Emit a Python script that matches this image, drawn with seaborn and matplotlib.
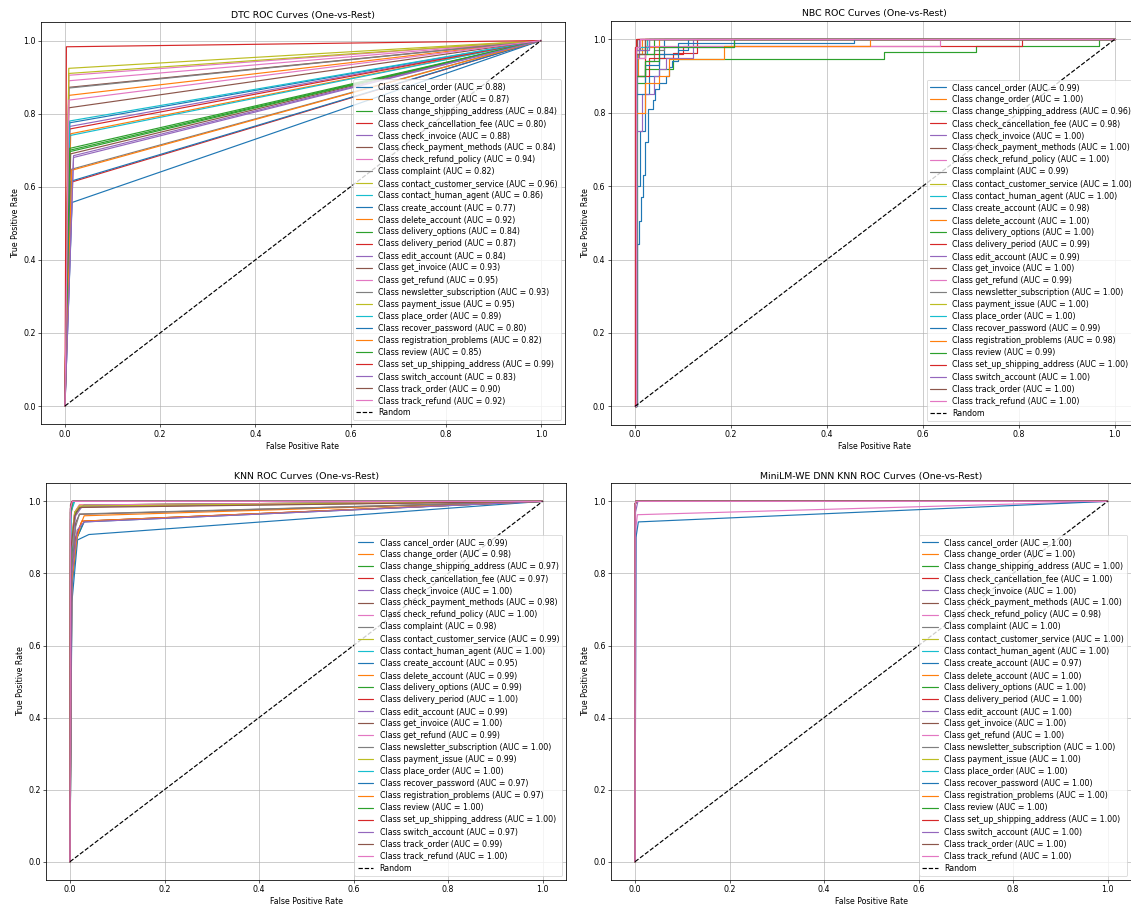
import matplotlib
matplotlib.use("Agg")
import matplotlib.pyplot as plt
import seaborn as sns
import pandas as pd

classes = ["cancel_order", "change_order", "change_shipping_address", "check_cancellation_fee",
           "check_invoice", "check_payment_methods", "check_refund_policy", "complaint",
           "contact_customer_service", "contact_human_agent", "create_account", "delete_account",
           "delivery_options", "delivery_period", "edit_account", "get_invoice", "get_refund",
           "newsletter_subscription", "payment_issue", "place_order", "recover_password",
           "registration_problems", "review", "set_up_shipping_address", "switch_account",
           "track_order", "track_refund"]

# ---- AUC values (legend) ----
dtc_auc = [0.88, 0.87, 0.84, 0.80, 0.88, 0.84, 0.94, 0.82, 0.96, 0.86, 0.77, 0.92, 0.84, 0.87,
           0.84, 0.93, 0.95, 0.93, 0.95, 0.89, 0.80, 0.82, 0.85, 0.99, 0.83, 0.90, 0.92]
nbc_auc = [0.99, 1.00, 0.96, 0.98, 1.00, 1.00, 1.00, 0.99, 1.00, 1.00, 0.98, 1.00, 1.00, 0.99,
           0.99, 1.00, 0.99, 1.00, 1.00, 1.00, 0.99, 0.98, 0.99, 1.00, 1.00, 1.00, 1.00]
knn_auc = [0.99, 0.98, 0.97, 0.97, 1.00, 0.98, 1.00, 0.98, 0.99, 1.00, 0.95, 0.99, 0.99, 1.00,
           0.99, 1.00, 0.99, 1.00, 0.99, 1.00, 0.97, 0.97, 1.00, 1.00, 0.97, 0.99, 1.00]
dnn_auc = [1.00, 1.00, 1.00, 1.00, 1.00, 1.00, 0.98, 1.00, 1.00, 1.00, 0.97, 1.00, 1.00, 1.00,
           1.00, 1.00, 1.00, 1.00, 1.00, 1.00, 1.00, 1.00, 1.00, 1.00, 1.00, 1.00, 1.00]

# ---- DTC: single operating point per class ----
dtc_fpr = [0.010, 0.012, 0.010, 0.012, 0.010, 0.012, 0.008, 0.014, 0.008, 0.010, 0.015, 0.008,
           0.010, 0.010, 0.018, 0.008, 0.008, 0.008, 0.008, 0.010, 0.012, 0.014, 0.010, 0.003,
           0.018, 0.008, 0.008]
dtc_tpr = [0.775, 0.745, 0.700, 0.612, 0.765, 0.690, 0.890, 0.648, 0.924, 0.740, 0.557, 0.850,
           0.696, 0.758, 0.685, 0.872, 0.905, 0.870, 0.910, 0.780, 0.615, 0.645, 0.705, 0.983,
           0.680, 0.816, 0.837]

# ---- NBC: step-curve corner points per class ----
nbc_fpr = [
    [0, 0.002, 0.002, 0.01, 0.01, 0.02, 0.02, 0.03, 0.03, 0.05, 0.05, 0.06, 0.06, 1],
    [0, 0.002, 0.002, 0.006, 0.006, 0.015, 0.015, 1],
    [0, 0.003, 0.003, 0.02, 0.02, 0.08, 0.08, 0.52, 0.52, 0.71, 0.71, 0.967, 0.967, 1],
    [0, 0.003, 0.003, 0.02, 0.02, 0.10, 0.10, 0.806, 0.806, 1],
    [0, 0.002, 0.002, 0.008, 0.008, 1],
    [0, 0.003, 0.003, 0.02, 0.02, 1],
    [0, 0.001, 0.001, 0.004, 0.004, 1],
    [0, 0.005, 0.005, 0.02, 0.02, 0.04, 0.04, 0.06, 0.06, 0.206, 0.206, 1],
    [0, 0.003, 0.003, 0.03, 0.03, 1],
    [0, 0.004, 0.004, 0.025, 0.025, 1],
    [0, 0.004, 0.004, 0.008, 0.008, 0.012, 0.012, 0.016, 0.016, 0.020, 0.020, 0.027, 0.027,
     0.037, 0.037, 0.042, 0.042, 0.05, 0.05, 0.065, 0.065, 0.072, 0.072, 0.077, 0.077, 0.09,
     0.09, 0.11, 0.11, 1],
    [0, 0.003, 0.003, 0.05, 0.05, 1],
    [0, 0.003, 0.003, 0.04, 0.04, 1],
    [0, 0.002, 0.002, 0.03, 0.03, 0.08, 0.08, 0.13, 0.13, 1],
    [0, 0.003, 0.003, 0.015, 0.015, 0.04, 0.04, 0.05, 0.05, 0.065, 0.065, 0.12, 0.12, 1],
    [0, 0.001, 0.001, 0.005, 0.005, 1],
    [0, 0.002, 0.002, 0.02, 0.02, 0.635, 0.635, 1],
    [0, 0.002, 0.002, 0.01, 0.01, 1],
    [0, 0.002, 0.002, 0.02, 0.02, 1],
    [0, 0.003, 0.003, 0.03, 0.03, 1],
    [0, 0.003, 0.003, 0.02, 0.02, 0.05, 0.05, 0.09, 0.09, 0.457, 0.457, 1],
    [0, 0.003, 0.003, 0.02, 0.02, 0.05, 0.05, 0.07, 0.07, 0.186, 0.186, 0.49, 0.49, 1],
    [0, 0.003, 0.003, 0.02, 0.02, 0.05, 0.05, 0.206, 0.206, 1],
    [0, 0.001, 0.001, 0.002, 0.002, 1],
    [0, 0.003, 0.003, 0.03, 0.03, 1],
    [0, 0.002, 0.002, 0.02, 0.02, 1],
    [0, 0.003, 0.003, 0.01, 0.01, 1],
]
nbc_tpr = [
    [0, 0, 0.60, 0.60, 0.75, 0.75, 0.85, 0.85, 0.90, 0.90, 0.95, 0.95, 1, 1],
    [0, 0, 0.90, 0.90, 0.96, 0.96, 1, 1],
    [0, 0, 0.88, 0.88, 0.92, 0.92, 0.947, 0.947, 0.966, 0.966, 0.982, 0.982, 1, 1],
    [0, 0, 0.90, 0.90, 0.96, 0.96, 0.982, 0.982, 1, 1],
    [0, 0, 0.95, 0.95, 1, 1],
    [0, 0, 0.95, 0.95, 1, 1],
    [0, 0, 0.97, 0.97, 1, 1],
    [0, 0, 0.90, 0.90, 0.94, 0.94, 0.97, 0.97, 0.98, 0.98, 1, 1],
    [0, 0, 0.97, 0.97, 1, 1],
    [0, 0, 0.96, 0.96, 1, 1],
    [0, 0, 0.443, 0.443, 0.504, 0.504, 0.57, 0.57, 0.63, 0.63, 0.72, 0.72, 0.81, 0.81,
     0.835, 0.835, 0.865, 0.865, 0.88, 0.88, 0.90, 0.90, 0.925, 0.925, 0.94, 0.94, 0.97,
     0.97, 1, 1],
    [0, 0, 0.98, 0.98, 1, 1],
    [0, 0, 0.96, 0.96, 1, 1],
    [0, 0, 0.90, 0.90, 0.95, 0.95, 0.963, 0.963, 1, 1],
    [0, 0, 0.75, 0.75, 0.85, 0.85, 0.90, 0.90, 0.92, 0.92, 0.95, 0.95, 1, 1],
    [0, 0, 0.98, 0.98, 1, 1],
    [0, 0, 0.95, 0.95, 0.982, 0.982, 1, 1],
    [0, 0, 0.97, 0.97, 1, 1],
    [0, 0, 0.97, 0.97, 1, 1],
    [0, 0, 0.98, 0.98, 1, 1],
    [0, 0, 0.85, 0.85, 0.93, 0.93, 0.96, 0.96, 0.99, 0.99, 1, 1],
    [0, 0, 0.80, 0.80, 0.88, 0.88, 0.90, 0.90, 0.947, 0.947, 0.982, 0.982, 1, 1],
    [0, 0, 0.90, 0.90, 0.94, 0.94, 0.98, 0.98, 1, 1],
    [0, 0, 0.98, 0.98, 1, 1],
    [0, 0, 0.97, 0.97, 1, 1],
    [0, 0, 0.96, 0.96, 1, 1],
    [0, 0, 0.98, 0.98, 1, 1],
]

# ---- KNN: few thresholds per class ----
knn_fpr = [
    [0, 0.002, 0.010, 0.030, 1], [0, 0.003, 0.012, 0.030, 1], [0, 0.004, 0.015, 0.030, 1],
    [0, 0.003, 0.012, 0.025, 1], [0, 0.001, 0.005, 1], [0, 0.003, 0.012, 0.020, 1],
    [0, 0.001, 0.004, 1], [0, 0.003, 0.012, 0.020, 1], [0, 0.002, 0.010, 0.020, 1],
    [0, 0.002, 0.010, 1], [0, 0.004, 0.016, 0.040, 1], [0, 0.002, 0.010, 0.020, 1],
    [0, 0.002, 0.012, 0.030, 1], [0, 0.001, 0.006, 1], [0, 0.002, 0.012, 0.025, 1],
    [0, 0.001, 0.004, 1], [0, 0.002, 0.010, 0.020, 1], [0, 0.001, 0.005, 1],
    [0, 0.002, 0.010, 0.020, 1], [0, 0.002, 0.008, 1], [0, 0.004, 0.015, 0.030, 1],
    [0, 0.004, 0.015, 0.025, 1], [0, 0.001, 0.006, 1], [0, 0.001, 0.004, 1],
    [0, 0.004, 0.015, 0.030, 1], [0, 0.002, 0.010, 0.020, 1], [0, 0.001, 0.005, 1],
]
knn_tpr = [
    [0, 0.80, 0.97, 0.99, 1], [0, 0.75, 0.90, 0.96, 1], [0, 0.80, 0.90, 0.945, 1],
    [0, 0.78, 0.90, 0.945, 1], [0, 0.98, 1, 1], [0, 0.80, 0.94, 0.964, 1],
    [0, 0.97, 1, 1], [0, 0.82, 0.93, 0.965, 1], [0, 0.85, 0.96, 0.985, 1],
    [0, 0.97, 1, 1], [0, 0.72, 0.893, 0.908, 1], [0, 0.88, 0.97, 0.99, 1],
    [0, 0.88, 0.97, 0.99, 1], [0, 0.95, 1, 1], [0, 0.86, 0.96, 0.985, 1],
    [0, 0.99, 1, 1], [0, 0.88, 0.97, 0.99, 1], [0, 0.98, 1, 1],
    [0, 0.87, 0.97, 0.987, 1], [0, 0.97, 1, 1], [0, 0.76, 0.90, 0.943, 1],
    [0, 0.78, 0.90, 0.945, 1], [0, 0.97, 1, 1], [0, 0.98, 1, 1],
    [0, 0.80, 0.92, 0.943, 1], [0, 0.87, 0.96, 0.983, 1], [0, 0.98, 1, 1],
]

# ---- MiniLM-WE DNN ----
dnn_fpr = [[0, 0, 0.002, 1] for _ in range(27)]
dnn_tpr = [[0, 0.99, 1, 1] for _ in range(27)]
dnn_fpr[10] = [0, 0.002, 0.007, 1]
dnn_tpr[10] = [0, 0.90, 0.943, 1]
dnn_fpr[6] = [0, 0.002, 0.005, 1]
dnn_tpr[6] = [0, 0.93, 0.963, 1]
dnn_fpr[24] = [0, 0.001, 0.006, 1]
dnn_tpr[24] = [0, 0.97, 1, 1]

titles = ["DTC ROC Curves (One-vs-Rest)", "NBC ROC Curves (One-vs-Rest)",
          "KNN ROC Curves (One-vs-Rest)", "MiniLM-WE DNN KNN ROC Curves (One-vs-Rest)"]

sns.set_style("ticks", {"axes.grid": True, "grid.color": "#b0b0b0", "axes.edgecolor": "black",
                        "text.color": "black", "axes.labelcolor": "black",
                        "xtick.color": "black", "ytick.color": "black"})
plt.rcParams["font.family"] = ["DejaVu Sans"]
plt.rcParams["grid.linewidth"] = 0.8
plt.rcParams["axes.linewidth"] = 1.0

DPI = 56.55
fig = plt.figure(figsize=(1131 / DPI, 906 / DPI), dpi=DPI)
positions = [
    [0.0364, 0.5317, 0.4630, 0.4437],
    [0.5402, 0.5312, 0.4666, 0.4456],
    [0.0410, 0.0290, 0.4596, 0.4375],
    [0.5406, 0.0290, 0.4596, 0.4375],
]

palette = sns.color_palette("tab10", 10)

models = [
    ([[0, f, 1] for f in dtc_fpr], [[0, t, 1] for t in dtc_tpr], dtc_auc),
    (nbc_fpr, nbc_tpr, nbc_auc),
    (knn_fpr, knn_tpr, knn_auc),
    (dnn_fpr, dnn_tpr, dnn_auc),
]

for pos, title, (fprs, tprs, aucs) in zip(positions, titles, models):
    ax = fig.add_axes(pos)
    for i, cls in enumerate(classes):
        df = pd.DataFrame({"fpr": fprs[i], "tpr": tprs[i]})
        sns.lineplot(data=df, x="fpr", y="tpr", ax=ax, estimator=None, sort=False,
                     color=palette[i % 10], linewidth=1.5,
                     label=f"Class {cls} (AUC = {aucs[i]:.2f})")
    sns.lineplot(x=[0, 1], y=[0, 1], ax=ax, color="black", linestyle="--",
                 linewidth=1.5, label="Random", estimator=None, sort=False)
    ax.set_title(title, fontsize=12)
    ax.set_xlabel("False Positive Rate", fontsize=10)
    ax.set_ylabel("True Positive Rate", fontsize=10)
    ax.set_xlim(-0.05, 1.05)
    ax.set_ylim(-0.05, 1.05)
    ax.tick_params(labelsize=10)
    ax.grid(True)
    ax.legend(loc="lower right", fontsize=10, labelspacing=0.39)

fig.savefig("out.png", dpi=DPI)
